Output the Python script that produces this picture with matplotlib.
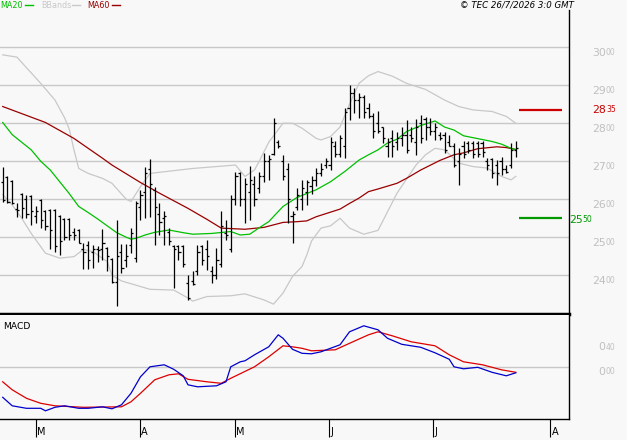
import numpy as np
import matplotlib
matplotlib.use("Agg")
import matplotlib.pyplot as plt
from matplotlib.lines import Line2D
from matplotlib.transforms import ScaledTranslation

# daily bars
highs = [2686, 2661, 2651, 2589, 2616, 2611, 2611, 2581, 2600, 2572,
         2574, 2574, 2559, 2550, 2550, 2524, 2521, 2484, 2491, 2480,
         2477, 2521, 2475, 2445, 2546, 2482, 2482, 2524, 2596, 2625,
         2686, 2705, 2633, 2589, 2568, 2524, 2480, 2480, 2480, 2401,
         2410, 2480, 2480, 2493, 2425, 2471, 2568, 2546, 2611, 2673,
         2673, 2655, 2688, 2660, 2673, 2723, 2717, 2813, 2756, 2717,
         2695, 2568, 2629, 2651, 2651, 2660, 2681, 2695, 2708, 2765,
         2752, 2769, 2839, 2901, 2892, 2879, 2874, 2853, 2826, 2831,
         2791, 2760, 2782, 2778, 2791, 2809, 2790, 2810, 2822, 2817,
         2813, 2800, 2778, 2778, 2769, 2747, 2734, 2752, 2752, 2752,
         2752, 2752, 2708, 2708, 2703, 2712, 2690, 2747, 2752]
lows = [2594, 2589, 2587, 2554, 2550, 2550, 2532, 2537, 2524, 2518,
        2468, 2462, 2454, 2493, 2493, 2493, 2484, 2416, 2416, 2418,
        2436, 2440, 2410, 2379, 2318, 2405, 2421, 2458, 2436, 2546,
        2550, 2554, 2480, 2506, 2480, 2480, 2366, 2440, 2421, 2335,
        2375, 2401, 2427, 2414, 2379, 2390, 2423, 2493, 2462, 2585,
        2582, 2537, 2546, 2581, 2616, 2646, 2651, 2717, 2734, 2651,
        2537, 2484, 2572, 2572, 2585, 2615, 2635, 2660, 2682, 2677,
        2712, 2712, 2708, 2809, 2826, 2813, 2813, 2813, 2760, 2774,
        2747, 2712, 2712, 2730, 2739, 2721, 2750, 2717, 2747, 2756,
        2769, 2756, 2756, 2721, 2739, 2686, 2638, 2708, 2721, 2708,
        2712, 2712, 2677, 2655, 2638, 2664, 2668, 2682, 2712]
opens = [2645, 2658, 2648, 2575, 2614, 2600, 2608, 2556, 2598, 2570,
         2572, 2572, 2557, 2548, 2548, 2515, 2519, 2470, 2480, 2462,
         2470, 2470, 2473, 2443, 2382, 2460, 2440, 2480, 2445, 2580,
         2620, 2680, 2625, 2560, 2550, 2515, 2478, 2478, 2478, 2380,
         2385, 2410, 2478, 2470, 2410, 2400, 2430, 2510, 2470, 2600,
         2670, 2600, 2620, 2640, 2630, 2660, 2700, 2720, 2750, 2700,
         2680, 2555, 2580, 2600, 2620, 2635, 2650, 2670, 2690, 2690,
         2740, 2720, 2740, 2840, 2880, 2860, 2870, 2840, 2820, 2800,
         2790, 2740, 2760, 2750, 2760, 2770, 2770, 2750, 2800, 2810,
         2790, 2780, 2770, 2770, 2750, 2740, 2700, 2740, 2748, 2748,
         2748, 2748, 2700, 2705, 2690, 2700, 2680, 2690, 2730]
closes = [2598, 2594, 2590, 2572, 2577, 2560, 2570, 2570, 2545, 2530,
          2520, 2476, 2490, 2500, 2505, 2505, 2486, 2460, 2440, 2470,
          2466, 2485, 2450, 2382, 2450, 2420, 2450, 2510, 2590, 2610,
          2670, 2640, 2580, 2540, 2555, 2490, 2470, 2460, 2430, 2340,
          2378, 2460, 2440, 2450, 2400, 2440, 2530, 2505, 2600, 2660,
          2600, 2640, 2650, 2600, 2660, 2700, 2705, 2800, 2740, 2660,
          2600, 2560, 2610, 2630, 2645, 2650, 2670, 2680, 2700, 2750,
          2720, 2760, 2830, 2880, 2860, 2870, 2830, 2820, 2780, 2780,
          2760, 2750, 2740, 2760, 2770, 2730, 2760, 2790, 2760, 2790,
          2780, 2790, 2760, 2730, 2740, 2690, 2720, 2720, 2730, 2720,
          2720, 2725, 2690, 2670, 2670, 2680, 2672, 2730, 2735]

# indicators (bar index, value)
ma20_i = [0, 2, 4, 6, 8, 10, 12, 14, 16, 18, 20, 22, 24, 26, 27, 28, 30, 32, 35, 38,
          40, 44, 48, 50, 52, 54, 56, 59, 62, 66, 69, 72, 75, 77, 79, 81, 83, 85, 88, 91,
          93, 95, 97, 101, 103, 105, 107, 108]
ma20_v = [2802, 2770, 2750, 2730, 2700, 2677, 2646, 2615, 2581, 2565, 2548, 2530, 2512, 2500, 2495, 2497, 2506, 2513, 2519, 2512,
          2508, 2510, 2515, 2506, 2508, 2525, 2541, 2581, 2605, 2625, 2646, 2673, 2703, 2717, 2730, 2748, 2758, 2778, 2794, 2806,
          2790, 2782, 2767, 2757, 2752, 2745, 2734, 2730]
ma60_i = [0, 9, 15, 21, 23, 29, 33, 39, 43, 46, 51, 55, 59, 62, 64, 66, 71, 73, 75, 77,
          79, 83, 85, 88, 92, 95, 97, 100, 104, 106, 108]
ma60_v = [2844, 2802, 2760, 2708, 2690, 2644, 2616, 2576, 2547, 2524, 2521, 2526, 2539, 2541, 2543, 2554, 2574, 2589, 2603, 2620,
          2627, 2642, 2655, 2677, 2702, 2717, 2722, 2733, 2738, 2736, 2731]
bbup_i = [0, 3, 4, 8, 11, 13, 14, 15, 16, 18, 21, 23, 26, 27, 29, 31, 40, 49, 51, 53,
          54, 56, 59, 61, 63, 66, 67, 69, 71, 73, 75, 77, 79, 82, 85, 89, 93, 96, 99, 103,
          106, 108]
bbup_v = [2980, 2974, 2960, 2905, 2861, 2815, 2785, 2730, 2681, 2668, 2655, 2642, 2600, 2594, 2633, 2668, 2681, 2690, 2660, 2677,
          2700, 2750, 2800, 2800, 2787, 2760, 2756, 2765, 2790, 2850, 2905, 2925, 2936, 2924, 2905, 2889, 2861, 2844, 2835, 2831,
          2818, 2800]
bblo_i = [0, 2, 4, 6, 9, 12, 15, 17, 19, 22, 23, 25, 31, 36, 39, 40, 43, 48, 51, 55,
          57, 59, 61, 63, 64, 65, 67, 69, 71, 73, 76, 79, 81, 83, 85, 87, 89, 91, 93, 96,
          99, 102, 105, 107, 108]
bblo_v = [2612, 2585, 2550, 2510, 2458, 2445, 2449, 2468, 2462, 2436, 2400, 2385, 2363, 2361, 2340, 2332, 2344, 2346, 2351, 2335,
          2324, 2353, 2397, 2423, 2453, 2490, 2524, 2530, 2550, 2524, 2508, 2518, 2567, 2616, 2653, 2690, 2717, 2734, 2730, 2695,
          2686, 2682, 2660, 2651, 2660]
macd_i = [0, 2, 5, 8, 9, 11, 13, 16, 18, 21, 23, 25, 27, 29, 31, 34, 36, 38, 39, 41,
          45, 47, 48, 50, 51, 53, 56, 58, 59, 61, 63, 65, 67, 69, 71, 73, 76, 79, 81, 84,
          88, 91, 94, 95, 97, 100, 103, 106, 108]
macd_v = [-0.60, -0.77, -0.82, -0.82, -0.87, -0.80, -0.77, -0.82, -0.82, -0.79, -0.83, -0.75, -0.52, -0.19, 0.01, 0.05, -0.04, -0.17, -0.35, -0.39,
          -0.37, -0.29, 0.01, 0.11, 0.13, 0.25, 0.41, 0.65, 0.58, 0.36, 0.28, 0.27, 0.31, 0.38, 0.45, 0.71, 0.83, 0.75, 0.58, 0.46,
          0.40, 0.29, 0.16, 0.01, -0.03, 0.00, -0.10, -0.17, -0.11]
sig_i = [0, 2, 5, 8, 11, 17, 25, 27, 29, 32, 35, 37, 39, 43, 46, 48, 53, 56, 59, 61,
         63, 65, 70, 73, 77, 79, 82, 86, 91, 94, 97, 101, 105, 108]
sig_v = [-0.29, -0.45, -0.62, -0.72, -0.77, -0.80, -0.79, -0.69, -0.52, -0.25, -0.15, -0.13, -0.24, -0.29, -0.32, -0.22, 0.01, 0.21, 0.43, 0.41,
         0.38, 0.33, 0.35, 0.48, 0.65, 0.71, 0.63, 0.51, 0.43, 0.25, 0.11, 0.05, -0.05, -0.10]

month_pos = [7, 28.85, 48.85, 68.7, 90.5, 115.2]
month_lab = ['M', 'A', 'M', 'J', 'J', 'A']
price_ticks = [2400, 2500, 2600, 2700, 2800, 2900, 3000]
resistance = 2835
support = 2550

BG = '#f8f8f8'
GRID = '#c8c8c8'
W, H = 627, 440

fig = plt.figure(figsize=(W / 100, H / 100), dpi=100, facecolor=BG)
ax = fig.add_axes([0, 1 - 314 / H, 569 / W, 304 / H], facecolor=BG)
mx = fig.add_axes([0, 1 - 419 / H, 569 / W, 104 / H], facecolor=BG)

xlim = (-0.57, 119.2)
ax.set_xlim(*xlim)
ax.set_ylim(2298, 3098)
mx.set_xlim(*xlim)
mx.set_ylim(-1.034, 1.046)

for a in (ax, mx):
    for s in ('left', 'top'):
        a.spines[s].set_visible(False)
    a.spines['right'].set_color('black')
    a.spines['right'].set_linewidth(1.0)
    a.set_yticks([])
ax.spines['bottom'].set_linewidth(2.5)
ax.set_xticks([])
mx.spines['bottom'].set_linewidth(1.0)

for p in price_ticks:
    ax.axhline(p, color=GRID, lw=1.0, zorder=1)
mx.axhline(0, color=GRID, lw=1.0, zorder=1)

# indicators
ax.plot(bbup_i, bbup_v, color='#c8c8c8', lw=0.9, zorder=2)
ax.plot(bblo_i, bblo_v, color='#c8c8c8', lw=0.9, zorder=2)
ax.plot(ma60_i, ma60_v, color='#990000', lw=0.9, zorder=2)
ax.plot(ma20_i, ma20_v, color='#00c000', lw=0.9, zorder=2)

# OHLC bars
idx = np.arange(len(highs))
ax.vlines(idx, lows, highs, color='black', lw=0.9, zorder=3)
ax.hlines(opens, idx - 0.45, idx, color='black', lw=0.9, zorder=3)
ax.hlines(closes, idx, idx + 0.45, color='black', lw=0.9, zorder=3)

# support / resistance
ax.hlines(resistance, 108.7, 117.7, color='#cc0000', lw=1.6, zorder=3)
ax.hlines(support, 108.7, 117.7, color='#009900', lw=1.6, zorder=3)


def px_off(dy):
    return ScaledTranslation(0, dy / 100, fig.dpi_scale_trans)


def split_label(a, val, big, small, color, xs, dy):
    tr = a.get_yaxis_transform()
    a.text(xs, val, big, transform=tr + px_off(dy), ha='right', va='center',
           fontsize=7.8, color=color)
    a.text(xs, val, small, transform=tr + px_off(dy + 4.5), ha='left', va='top',
           fontsize=5.5, color=color)


for p in price_ticks:
    s = str(p)
    split_label(ax, p, s[:2], s[2:], '#c0c0c0', 606 / 569, -5.5)
s = str(resistance)
split_label(ax, resistance, s[:2], s[2:], '#cc0000', 606 / 569, 0)
s = str(support)
split_label(ax, support, s[:2], s[2:], '#009900', 582.5 / 569, -1.5)

split_label(mx, 0.40, '0', '40', '#c0c0c0', 605.5 / 569, 0)
split_label(mx, 0.0, '0', '00', '#c0c0c0', 605.5 / 569, -4.5)

# MACD
mx.plot(sig_i, sig_v, color='#dd0000', lw=0.9, zorder=2)
mx.plot(macd_i, macd_v, color='#0000cc', lw=0.9, zorder=3)
mx.text(3 / 569, 0.885, 'MACD', transform=mx.transAxes, fontsize=6.6,
        ha='left', va='center', color='black')

# month ticks
mx.set_xticks(month_pos)
mx.tick_params(axis='x', length=13, width=0.8, direction='out', color='black',
               labelbottom=False)
for pos, lab in zip(month_pos, month_lab):
    mx.text(pos, -0.125, lab, transform=mx.get_xaxis_transform() + ScaledTranslation(1.5 / 100, 0, fig.dpi_scale_trans),
            ha='left', va='center', fontsize=7, color='black')

# legend across the top
def fx(x):
    return x / W


def fy(y):
    return 1 - y / H


legend = [('MA20', '#00c000', 0, 25, 33),
          ('BBands', '#c8c8c8', 41, 72, 80),
          ('MA60', '#990000', 87, 112, 120)]
for lab, col, x0, l0, l1 in legend:
    fig.text(fx(x0), fy(5), lab, color=col, fontsize=5.8, ha='left', va='center')
    fig.add_artist(Line2D([fx(l0), fx(l1)], [fy(5), fy(5)], color=col, lw=1.0))

fig.text(fx(574), fy(5), '\u00a9 TEC 26/7/2026 3:0 GMT', fontsize=6.2, style='italic',
         ha='right', va='center', color='black')

fig.savefig('out.png', dpi=100, facecolor=BG)
